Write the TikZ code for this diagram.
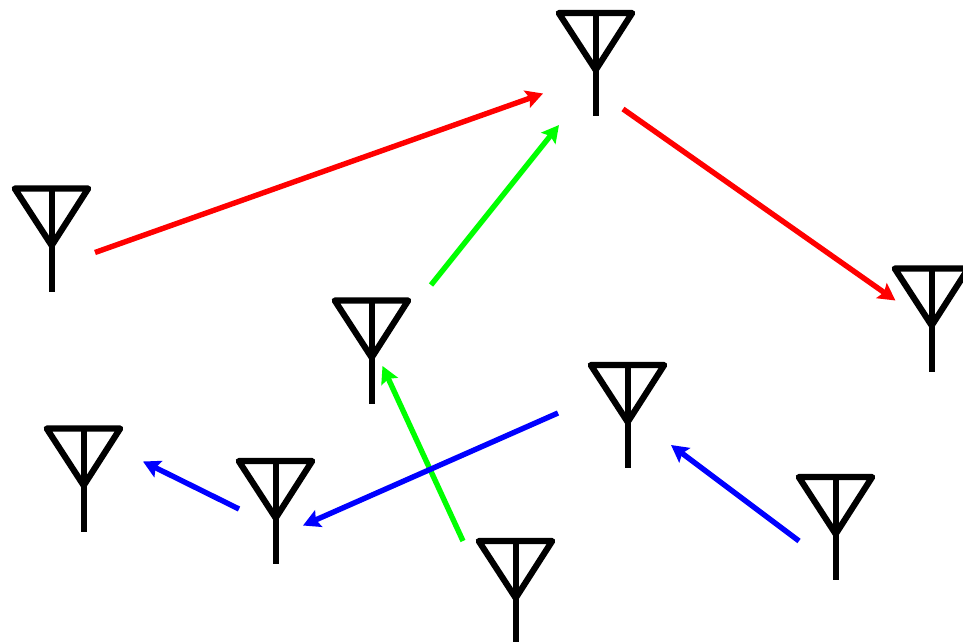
\documentclass[tikz,border=0pt]{standalone}
\usetikzlibrary{arrows.meta}
\tikzset{
  antenna/.pic={
    \draw[antline,line join=round,line cap=round] (-37,0) -- (36.5,0) -- (0,57) -- cycle;
    \draw[antline] (0,0) -- (0,103);
  },
  antline/.style={black,line width=6.2pt},
  link/.style={line width=5.4pt,-{Stealth[length=17pt,width=18pt,inset=3pt]}},
  redlink/.style={link,red},
  greenlink/.style={link,green},
  bluelink/.style={link,blue}
}
\begin{document}
\begin{tikzpicture}[x=1pt,y=-1pt]
\useasboundingbox (0,0) rectangle (963,642);
\clip (0,0) rectangle (963,642);
\pic at (595.7,13) {antenna};
\pic at (51.7,188.5) {antenna};
\pic at (371.7,300.5) {antenna};
\pic at (931.7,268.5) {antenna};
\pic at (627.7,365) {antenna};
\pic at (83.7,428.5) {antenna};
\pic at (275.7,461) {antenna};
\pic at (515.7,541) {antenna};
\pic at (835.7,477) {antenna};
\coordinate (r1s) at (95,252.5); \coordinate (r1e) at (543,93.5);
\coordinate (g1s) at (431,285); \coordinate (g1e) at (559,125);
\coordinate (r2s) at (623,109); \coordinate (r2e) at (895.5,300.5);
\coordinate (g2s) at (463,541); \coordinate (g2e) at (382.5,366);
\coordinate (b1s) at (558,413); \coordinate (b1e) at (303,525.5);
\coordinate (b2s) at (239,509); \coordinate (b2e) at (143,461.5);
\coordinate (b3s) at (799,541); \coordinate (b3e) at (671,445);
\draw[redlink] (r1s) -- (r1e);
\draw[greenlink] (g1s) -- (g1e);
\draw[redlink] (r2s) -- (r2e);
\draw[greenlink] (g2s) -- (g2e);
\draw[bluelink] (b1s) -- (b1e);
\draw[bluelink] (b2s) -- (b2e);
\draw[bluelink] (b3s) -- (b3e);
\end{tikzpicture}
\end{document}
